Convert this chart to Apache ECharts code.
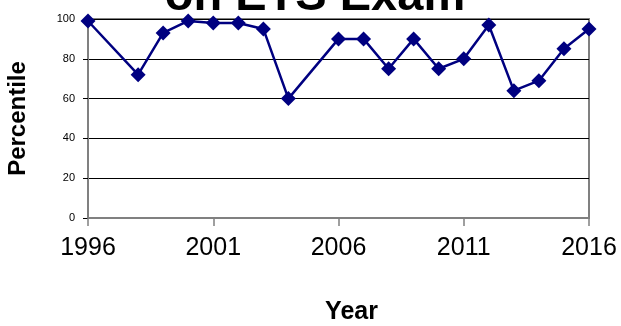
<!DOCTYPE html>
<html>
<head>
<meta charset="utf-8">
<script src="https://cdn.jsdelivr.net/npm/echarts@6/dist/echarts.min.js"></script>
<style>
  html, body { margin: 0; padding: 0; background: #fff; }
  #chart { width: 621px; height: 326px; }
</style>
</head>
<body>
<div id="chart"></div>
<script>
// Percentile ranking by year
var years = [1996, 1998, 1999, 2000, 2001, 2002, 2003, 2004, 2006, 2007, 2008, 2009, 2010, 2011, 2012, 2013, 2014, 2015, 2016];
var percentiles = [99, 72, 93, 99, 98, 98, 95, 60, 90, 90, 75, 90, 75, 80, 97, 64, 69, 85, 95];
var firstYear = 1996;
var lastYear = 2016;
var yearStep = 5;

var FONT = '"Liberation Sans", Arial, sans-serif';

// x positions are offsets from the first year so the 5-year ticks start at 1996
var points = years.map(function (y, i) { return [y - firstYear, percentiles[i]]; });

var chart = echarts.init(document.getElementById('chart'));
chart.setOption({
  animation: false,
  backgroundColor: '#ffffff',
  graphic: [{
    type: 'text',
    x: 315,
    y: -3,
    style: {
      text: 'on ETS Exam',
      font: 'bold 47px ' + FONT,
      fill: '#000',
      textAlign: 'center',
      textVerticalAlign: 'middle'
    }
  }],
  grid: {
    left: 88, right: 32, top: 19, bottom: 108,
    containLabel: false,
    outerBoundsMode: 'none',
    show: true,
    borderColor: '#808080',
    borderWidth: 2,
    backgroundColor: 'transparent'
  },
  xAxis: {
    type: 'value',
    min: 0,
    max: lastYear - firstYear,
    interval: yearStep,
    name: 'Year',
    nameLocation: 'middle',
    nameGap: 82,
    nameTextStyle: { fontFamily: FONT, fontSize: 25, fontWeight: 'bold', color: '#000', padding: [0, 0, 0, 26] },
    axisLine: { lineStyle: { color: '#808080', width: 2 } },
    axisTick: { show: true, length: 8, lineStyle: { color: '#808080', width: 1.5 } },
    axisLabel: {
      fontFamily: FONT, fontSize: 25, color: '#000', margin: 18,
      formatter: function (v) { return String(firstYear + v); }
    },
    splitLine: { show: false }
  },
  yAxis: {
    type: 'value',
    min: 0,
    max: 100,
    interval: 20,
    name: 'Percentile',
    nameLocation: 'middle',
    nameGap: 58,
    nameTextStyle: { fontFamily: FONT, fontSize: 24, fontWeight: 'bold', color: '#000' },
    axisLine: { show: true, lineStyle: { color: '#808080', width: 2 } },
    axisTick: { show: true, length: 5, lineStyle: { color: '#000', width: 1 } },
    axisLabel: { fontFamily: FONT, fontSize: 11, color: '#000', margin: 13 },
    splitLine: { show: true, lineStyle: { color: '#000', width: 1 } }
  },
  series: [{
    type: 'line',
    data: points,
    symbol: 'diamond',
    symbolSize: 15,
    lineStyle: { color: '#000080', width: 2.5 },
    itemStyle: { color: '#000080' },
    z: 5
  }]
});
</script>
</body>
</html>
